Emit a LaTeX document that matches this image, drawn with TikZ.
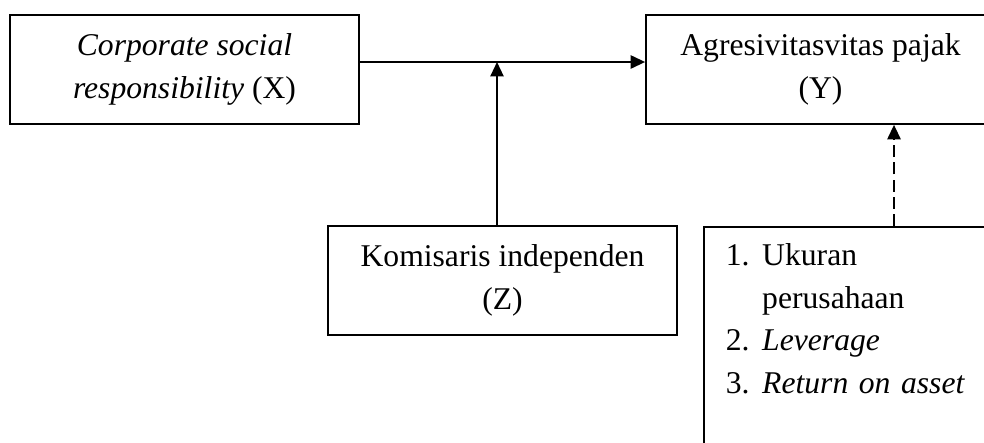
\documentclass[tikz,border=0pt]{standalone}
\usepackage{fontspec}
\setmainfont{Liberation Serif}
\usetikzlibrary{arrows.meta}

\begin{document}
\begin{tikzpicture}[x=0.025cm,y=-0.025cm,
  box/.style={draw,line width=1.2pt,minimum width=8.725cm,minimum height=2.725cm,
    align=center,inner sep=0pt,font=\fontsize{22.5pt}{30.3pt}\selectfont},
  arr/.style={line width=1.3pt,-{Triangle[length=0.36cm,width=0.33cm]}}]
\useasboundingbox (0,0) rectangle (984,442);
\clip (0,0) rectangle (984,442);

\node[box] (X) at (184.5,69.5) {\textit{Corporate social}\\\textit{responsibility} (X)};
\node[box] (Y) at (820.5,69.5) {Agresivitasvitas pajak\\(Y)};
\node[box] (Z) at (502.5,280.5) {Komisaris independen\\(Z)};
\node[box,anchor=north west,align=left,minimum height=0pt,inner xsep=0.55cm,inner ysep=6.4pt,
  text width=7.625cm,text depth=5.6cm] (ctrl) at (703,226)
  {\begin{tabular}[t]{@{}l@{\hspace{9pt}}l@{}}
   1. & Ukuran\\
      & perusahaan\\
   2. & \textit{Leverage}\\
   3. & \textit{Return on asset}
   \end{tabular}};

\coordinate (m) at (497,62);
\coordinate (d) at (894,0);
\draw[arr] (X.east |- m) -- (Y.west |- m);
\draw[arr] (Z.north -| m) -- (m);
\draw[arr,dash pattern=on 0.3cm off 0.13cm] (ctrl.north -| d) -- (Y.south -| d);
\end{tikzpicture}
\end{document}
